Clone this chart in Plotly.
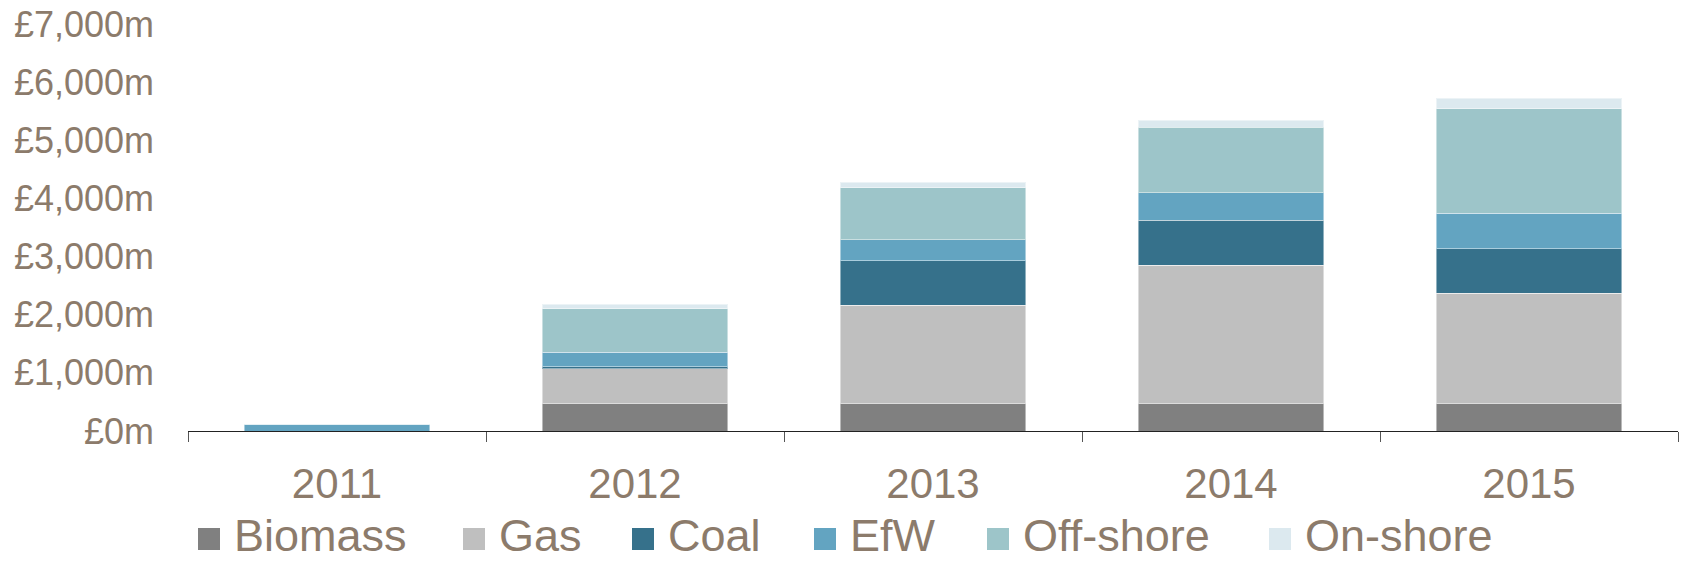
import plotly.graph_objects as go

# values in £m
years = ['2011', '2012', '2013', '2014', '2015']
biomass = [0, 470, 470, 470, 470]
gas = [0, 604, 1694, 2380, 1896]
coal = [0, 35, 767, 772, 772]
efw = [115, 248, 356, 476, 605]
offshore = [0, 746, 893, 1123, 1796]
onshore = [0, 81, 98, 121, 183]

series_names = ['Biomass', 'Gas', 'Coal', 'EfW', 'Off-shore', 'On-shore']
series_vals = [biomass, gas, coal, efw, offshore, onshore]
colors = ['#808080', '#bfbfbf', '#36718b', '#63a4c1', '#9dc5c9', '#dce9ef']

y_ticks = [0, 1000, 2000, 3000, 4000, 5000, 6000, 7000]
y_labels = ['£0m', '£1,000m', '£2,000m', '£3,000m', '£4,000m', '£5,000m', '£6,000m', '£7,000m']

text_color = '#8c7b6b'
font_family = 'Liberation Sans, Arial'

W, H = 1681, 561
left, right, top, bottom = 188, 3, 24, 130
plot_w = W - left - right
plot_h = H - top - bottom

fig = go.Figure()
for name, vals, color in zip(series_names, series_vals, colors):
    fig.add_trace(go.Bar(x=years, y=vals, name=name, showlegend=False,
                         marker=dict(color=color,
                                     line=dict(color='rgba(255,255,255,0.45)', width=1))))


def px_x(p):
    return (p - left) / plot_w


def px_y(p):
    return (H - bottom - p) / plot_h


# hand-built legend (larger squares than plotly's own)
marker_left = [198, 463, 632, 814, 987, 1269]
shapes = []
annotations = []
for name, color, mx in zip(series_names, colors, marker_left):
    shapes.append(dict(type='rect', xref='paper', yref='paper',
                       x0=px_x(mx), x1=px_x(mx + 22), y0=px_y(528), y1=px_y(550),
                       fillcolor=color, line=dict(width=0)))
    annotations.append(dict(xref='paper', yref='paper', x=px_x(mx + 34), y=px_y(535),
                            xanchor='left', yanchor='middle', showarrow=False,
                            text=name, font=dict(family=font_family, size=45, color=text_color)))

fig.update_layout(
    barmode='stack',
    bargap=0.376,
    width=W, height=H,
    margin=dict(l=left, r=right, t=top, b=bottom, pad=0),
    plot_bgcolor='white',
    paper_bgcolor='white',
    shapes=shapes,
    annotations=annotations,
    xaxis=dict(
        showline=True, linecolor='#222222', linewidth=1,
        ticks='outside', tickson='boundaries', ticklen=10, tickcolor='#555555',
        tickfont=dict(family=font_family, size=42, color=text_color),
        ticklabelstandoff=16,
        showgrid=False, automargin=False,
    ),
    yaxis=dict(
        range=[0, 7000],
        tickvals=y_ticks, ticktext=y_labels,
        tickfont=dict(family=font_family, size=36, color=text_color),
        ticklabeloverflow='allow',
        showgrid=False, zeroline=False, showline=False,
        ticks='', ticklabelstandoff=33, automargin=False,
    ),
)

# drop the browser's default 8px body margin so the chart fills the window
fig.write_html("out.html", config={'displayModeBar': False},
               post_script="document.body.style.margin = '0';")
